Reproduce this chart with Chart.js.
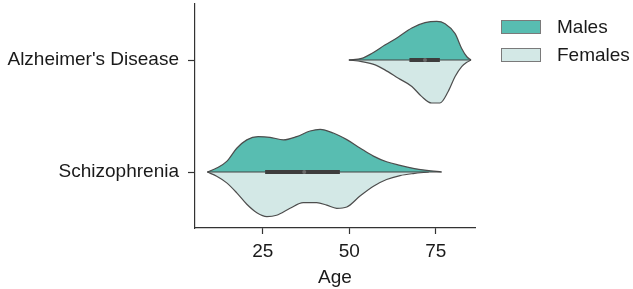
<!DOCTYPE html>
<html>
<head>
<meta charset="utf-8">
<script src="https://cdn.jsdelivr.net/npm/chart.js@4.4.1/dist/chart.umd.min.js"></script>
<style>
  html, body { margin: 0; padding: 0; background: #fff; }
  #wrap { width: 633px; height: 289px; }
</style>
</head>
<body>
<div id="wrap"><canvas id="violinChart"></canvas></div>
<script>
const categories = ["Alzheimer's Disease", 'Schizophrenia'];
const seriesNames = ['Males', 'Females'];
const xTicks = [25, 50, 75];

// half-widths of each violin side
const adMaleAge = [49.9, 53.6, 56.5, 60.3, 64.2, 68.1, 71.9, 75.3, 77.7, 80.6, 82.5, 84, 85.2];
const adMaleDens = [0, 0.014, 0.058, 0.133, 0.206, 0.286, 0.333, 0.345, 0.324, 0.235, 0.103, 0.029, 0];
const adFemaleAge = [49.9, 53.6, 57.5, 60.3, 64.2, 68.1, 70.9, 73.8, 76.2, 78.6, 80.6, 82.5, 84, 85.2];
const adFemaleDens = [0, 0.015, 0.044, 0.088, 0.163, 0.236, 0.325, 0.384, 0.384, 0.281, 0.148, 0.059, 0.021, 0];
const szMaleAge = [9, 11.7, 14.6, 17.5, 20.4, 23.7, 27.1, 31, 34.8, 38.7, 41.6, 45.4, 49.3, 53.1, 57, 60.8, 64.7, 68.5, 72.4, 76.7];
const szMaleDens = [0, 0.035, 0.095, 0.212, 0.287, 0.316, 0.31, 0.287, 0.316, 0.366, 0.381, 0.348, 0.289, 0.215, 0.142, 0.091, 0.059, 0.033, 0.015, 0];
const szFemaleAge = [9, 11.7, 14.6, 17.5, 20.4, 23.3, 26.2, 29, 32.9, 36.7, 40.6, 43.5, 46.4, 49.3, 53.1, 57, 60.8, 64.7, 68.5, 73];
const szFemaleDens = [0, 0.038, 0.097, 0.186, 0.288, 0.363, 0.398, 0.386, 0.324, 0.274, 0.274, 0.296, 0.324, 0.312, 0.215, 0.127, 0.067, 0.032, 0.014, 0];

// inner box: [min, q1, median, q3, max] per category
const adBox = [49.9, 67.4, 71.9, 76.2, 85.2];
const szBox = [9, 25.7, 37.0, 47.3, 76.7];

const maleColor = '#58bdb1';
const femaleColor = '#d3e8e6';
const edgeColor = '#4d4d4d';
const textColor = '#1a1a1a';
const font = { family: "'Liberation Sans', Arial, sans-serif", size: 19 };

const side = (ages, dens, center, sign, color) => ({
    data: ages.map((a, i) => ({ x: a, y: center + sign * dens[i] })),
    showLine: true,
    fill: { value: center },
    backgroundColor: color,
    borderColor: edgeColor,
    borderWidth: 1.2,
    pointRadius: 0,
    cubicInterpolationMode: 'monotone',
    order: 3
});

const boxSets = (box, center) => [
    { data: [{ x: box[0], y: center }, { x: box[4], y: center }], showLine: true, borderColor: '#444', borderWidth: 1.2, pointRadius: 0, order: 2 },
    { data: [{ x: box[1], y: center }, { x: box[3], y: center }], showLine: true, borderColor: '#3d3d3d', borderWidth: 4, pointRadius: 0, order: 1 },
    { data: [{ x: box[2], y: center }], showLine: false, pointRadius: 2, backgroundColor: '#6a6a6a', borderWidth: 0, order: 0 }
];

const legendPlugin = {
    id: 'sideLegend',
    afterDraw(chart) {
        const ctx = chart.ctx;
        const colors = [maleColor, femaleColor];
        ctx.save();
        seriesNames.forEach((name, i) => {
            const y = 20 + i * 28;
            ctx.fillStyle = colors[i];
            ctx.fillRect(501, y, 40, 14);
            ctx.strokeStyle = '#7a7a7a';
            ctx.lineWidth = 1;
            ctx.strokeRect(501.5, y + 0.5, 39, 13);
            ctx.fillStyle = textColor;
            ctx.font = `${font.size}px ${font.family}`;
            ctx.textBaseline = 'middle';
            ctx.fillText(name, 557, y + 8);
        });
        ctx.restore();
    }
};

new Chart(document.getElementById('violinChart'), {
    type: 'scatter',
    data: {
        datasets: [
            side(adMaleAge, adMaleDens, 0, -1, maleColor),
            side(adFemaleAge, adFemaleDens, 0, 1, femaleColor),
            side(szMaleAge, szMaleDens, 1, -1, maleColor),
            side(szFemaleAge, szFemaleDens, 1, 1, femaleColor),
            ...boxSets(adBox, 0),
            ...boxSets(szBox, 1)
        ]
    },
    options: {
        responsive: true,
        maintainAspectRatio: false,
        animation: false,
        layout: { padding: { top: 2, right: 158, left: 0, bottom: 0 } },
        plugins: { legend: { display: false }, tooltip: { enabled: false } },
        scales: {
            x: {
                type: 'linear',
                min: 5.43,
                max: 86.35,
                afterBuildTicks: s => { s.ticks = xTicks.map(v => ({ value: v })); },
                afterFit: s => { s.height = 61; s.paddingLeft = 0; s.paddingRight = 0; },
                grid: { drawOnChartArea: false, drawTicks: true, tickLength: 6, tickColor: '#333', tickWidth: 1.2 },
                border: { display: true, color: '#333', width: 1.2 },
                ticks: { color: textColor, font, padding: 6 },
                title: { display: true, text: 'Age', color: textColor, font, padding: { top: 2, bottom: 0 } }
            },
            y: {
                type: 'linear',
                reverse: true,
                min: -0.5,
                max: 1.5,
                afterBuildTicks: s => { s.ticks = categories.map((c, i) => ({ value: i })); },
                afterFit: s => { s.width = 195; s.paddingTop = 0; s.paddingBottom = 0; },
                grid: { drawOnChartArea: false, drawTicks: true, tickLength: 7, tickColor: '#333', tickWidth: 1.2 },
                border: { display: true, color: '#333', width: 1.2 },
                ticks: { color: textColor, font, padding: 9, callback: v => categories[v] }
            }
        }
    },
    plugins: [legendPlugin]
});
</script>
</body>
</html>
